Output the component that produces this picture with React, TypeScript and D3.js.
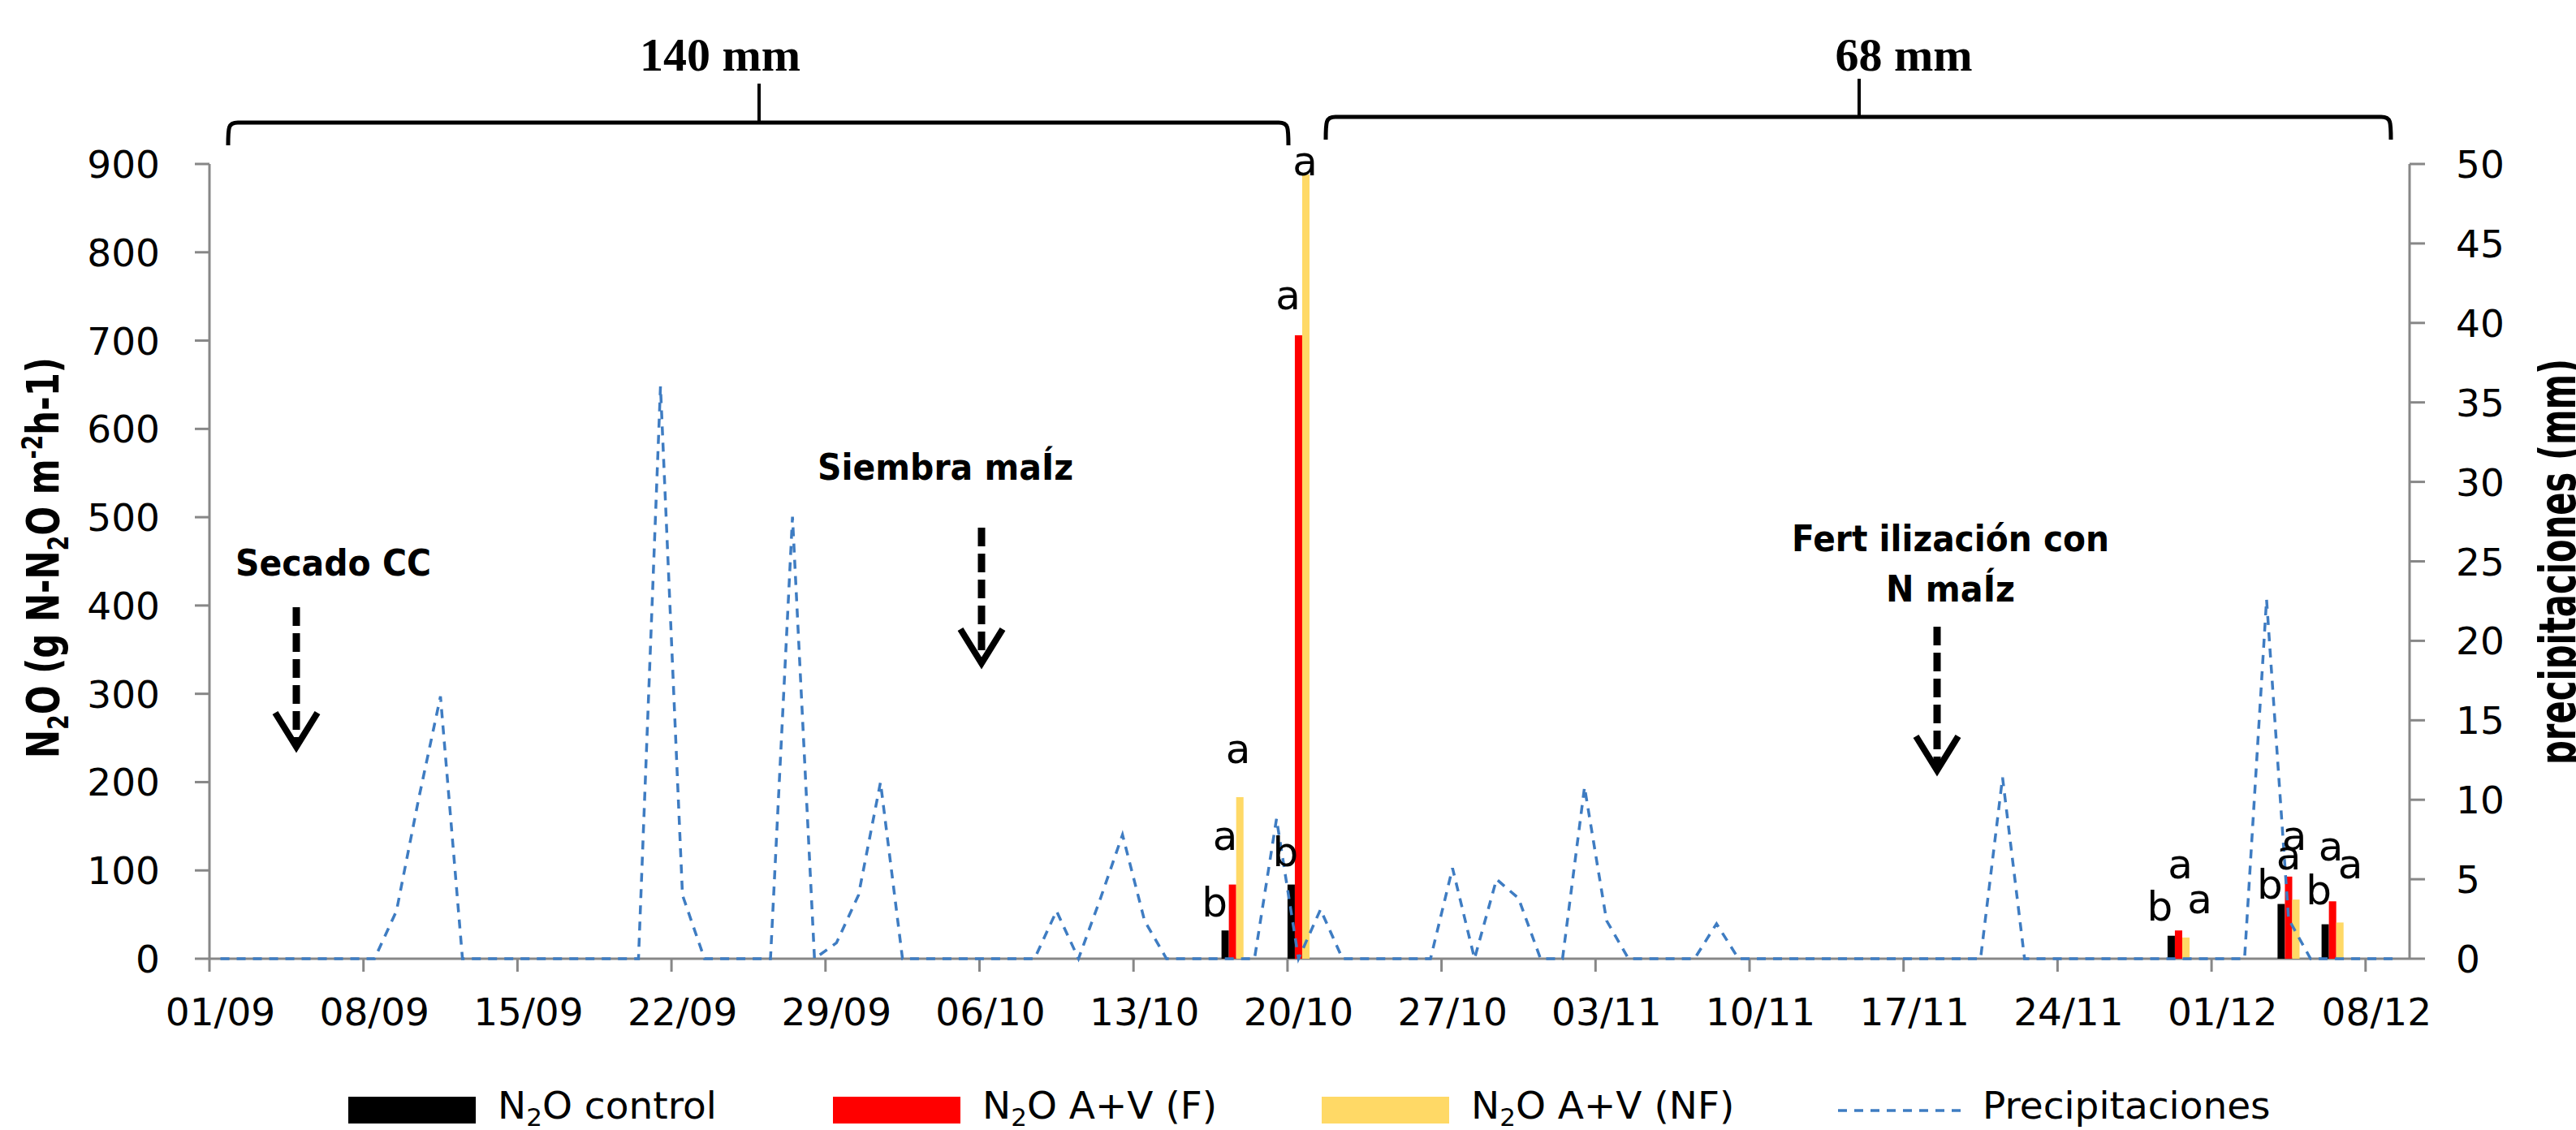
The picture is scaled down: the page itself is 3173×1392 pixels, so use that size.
import * as d3 from 'd3'

const YEAR = 2013
const DAY = 24 * 3600 * 1000
const parseDay = (s: string) => {
  const [d, m] = s.split('/').map(Number)
  return new Date(Date.UTC(YEAR, m - 1, d))
}

// daily rainfall (mm), first value is 01/09, last is 09/12
const precipStart = '01/09'
const axisEnd = '10/12'
const precipitation = [
  0, 0, 0, 0, 0, 0, 0, // 01/09 - 07/09
  0, 3, 10, 16.5, 0, 0, 0, // 08/09 - 14/09
  0, 0, 0, 0, 0, 0, 36, // 15/09 - 21/09
  4, 0, 0, 0, 0, 27.8, 0, // 22/09 - 28/09
  1, 4, 11.1, 0, 0, 0, 0, // 29/09 - 05/10
  0, 0, 0, 3, 0, 3.8, 7.8, // 06/10 - 12/10
  2.4, 0, 0, 0, 0, 0, 8.8, // 13/10 - 19/10
  0, 3.1, 0, 0, 0, 0, 0, // 20/10 - 26/10
  5.7, 0, 5, 3.8, 0, 0, 10.8, // 27/10 - 02/11
  2.4, 0, 0, 0, 0, 2.2, 0, // 03/11 - 09/11
  0, 0, 0, 0, 0, 0, 0, // 10/11 - 16/11
  0, 0, 0, 0, 11.4, 0, 0, // 17/11 - 23/11
  0, 0, 0, 0, 0, 0, 0, // 24/11 - 30/11
  0, 0, 22.6, 2.5, 0, 0, 0, // 01/12 - 07/12
  0, 0, // 08/12 - 09/12
]

// N2O flux (g N-N2O m-2 h-1) on sampling days
const sampleDates = ['17/10', '20/10', '29/11', '04/12', '06/12']
const n2oControl = [32, 84, 26, 62, 39]
const n2oF = [84, 706, 32, 93, 65]
const n2oNF = [183, 888, 24, 67, 41]
const lettersControl = ['b', 'b', 'b', 'b', 'b']
const lettersF = ['a', 'a', 'a', 'a', 'a']
const lettersNF = ['a', 'a', 'a', 'a', 'a']

const leftTicks = [0, 100, 200, 300, 400, 500, 600, 700, 800, 900]
const rightTicks = [0, 5, 10, 15, 20, 25, 30, 35, 40, 45, 50]

// hand placement of the significance letters (px from bar top), per group
const labelDx = [[-13, -9, -2], [-7, -13, -1], [-14, 2, 17], [-14, 0, -2], [-8, -2, 13]]
const labelDy = [[-17, -43, -42], [-23, -32, 1], [-19, -64, -30], [-7, -9, -61], [-25, -50, -54]]

const series = [
  { name: 'control', values: n2oControl, letters: lettersControl, color: '#000000' },
  { name: 'A+V (F)', values: n2oF, letters: lettersF, color: '#ff0000' },
  { name: 'A+V (NF)', values: n2oNF, letters: lettersNF, color: '#ffd966' },
]

const W = 3173
const H = 1392
const plot = { left: 258, right: 2968, top: 202, bottom: 1181 }
const FONT = 'DejaVu Sans'
const GREY = '#878787'
const BLUE = '#3e7cc2'

const x = d3.scaleUtc().domain([parseDay(precipStart), parseDay(axisEnd)]).range([plot.left, plot.right])
const yL = d3.scaleLinear().domain([0, 900]).range([plot.bottom, plot.top])
const yR = d3.scaleLinear().domain([0, 50]).range([plot.bottom, plot.top])

const mid = (d: Date) => x(new Date(d.getTime() + DAY / 2))

const Arrow = ({ cx, top, tip }: { cx: number; top: number; tip: number }) => (
  <g stroke="#000" fill="none">
    <line x1={cx} x2={cx} y1={top} y2={tip - 6} strokeWidth={9} strokeDasharray="23 9" />
    <polyline points={`${cx - 26},${tip - 42} ${cx},${tip} ${cx + 26},${tip - 42}`} strokeWidth={8} />
  </g>
)

const Bracket = ({ x1, x2, xs, yH, yEnd, yTop }: any) => (
  <g stroke="#000" fill="none" strokeWidth={5}>
    <path d={`M${x1},${yEnd} C${x1},${yH + 6} ${x1},${yH} ${x1 + 12},${yH} L${x2 - 12},${yH} C${x2},${yH} ${x2},${yH + 6} ${x2},${yEnd}`} />
    <path d={`M${xs},${yH} L${xs},${yTop}`} strokeWidth={4} />
  </g>
)

export default function App() {
  const start = parseDay(precipStart)
  const precipPts = precipitation.map((v, i) => ({ date: new Date(start.getTime() + i * DAY), v }))
  const line = d3
    .line<{ date: Date; v: number }>()
    .x((d) => mid(d.date))
    .y((d) => yR(d.v))

  const xTicks = d3.utcDay.range(parseDay(precipStart), parseDay(axisEnd), 7)
  const fmt = d3.utcFormat('%d/%m')

  const bars: any[] = []
  const labels: any[] = []
  sampleDates.forEach((s, gi) => {
    const d = parseDay(s)
    const x0 = x(d)
    const bw = (x(new Date(d.getTime() + DAY)) - x0) / 3
    series.forEach((se, si) => {
      const v = se.values[gi]
      const bx = x0 + si * bw
      bars.push(<rect key={`b${gi}-${si}`} x={bx} y={yL(v)} width={bw} height={yL(0) - yL(v)} fill={se.color} />)
      labels.push(
        <text key={`l${gi}-${si}`} x={bx + bw / 2 + labelDx[gi][si]} y={yL(v) + labelDy[gi][si]} fontSize={50} textAnchor="middle" fill="#000">
          {se.letters[gi]}
        </text>
      )
    })
  })

  const legend = [
    { x: 429, kind: 'rect', color: '#000000', label: 'control' },
    { x: 1026, kind: 'rect', color: '#ff0000', label: 'A+V (F)' },
    { x: 1628, kind: 'rect', color: '#ffd966', label: 'A+V (NF)' },
    { x: 2264, kind: 'line', color: BLUE, label: 'Precipitaciones' },
  ]

  return (
    <svg width={W} height={H} style={{ position: 'absolute', left: 0, top: 0, background: '#fff' }} fontFamily={FONT}>
      <rect width={W} height={H} fill="#fff" />

      {/* brackets with rainfall totals */}
      <Bracket x1={281} x2={1587} xs={935} yH={151} yEnd={179} yTop={103} />
      <Bracket x1={1633} x2={2945} xs={2290} yH={144} yEnd={172} yTop={97} />
      <text x={887} y={87} fontFamily="Liberation Serif" fontWeight="bold" fontSize={58} textAnchor="middle">140 mm</text>
      <text x={2345} y={87} fontFamily="Liberation Serif" fontWeight="bold" fontSize={58} textAnchor="middle">68 mm</text>

      {/* axes */}
      <g stroke={GREY} strokeWidth={3}>
        <line x1={plot.left} x2={plot.left} y1={plot.top} y2={plot.bottom} />
        <line x1={plot.right} x2={plot.right} y1={plot.top} y2={plot.bottom} />
        <line x1={plot.left} x2={plot.right} y1={plot.bottom} y2={plot.bottom} />
        {leftTicks.map((t) => (
          <line key={t} x1={plot.left - 18} x2={plot.left} y1={yL(t)} y2={yL(t)} />
        ))}
        {rightTicks.map((t) => (
          <line key={t} x1={plot.right} x2={plot.right + 19} y1={yR(t)} y2={yR(t)} />
        ))}
        {xTicks.map((t) => (
          <line key={+t} x1={x(t)} x2={x(t)} y1={plot.bottom} y2={plot.bottom + 16} />
        ))}
      </g>
      <g fontSize={47} fill="#000">
        {leftTicks.map((t) => (
          <text key={t} x={197} y={yL(t) + 17} textAnchor="end">{t}</text>
        ))}
        {rightTicks.map((t) => (
          <text key={t} x={3025} y={yR(t) + 17}>{t}</text>
        ))}
        {xTicks.map((t) => (
          <text key={+t} x={mid(t)} y={1263} textAnchor="middle">{fmt(t)}</text>
        ))}
      </g>

      {/* axis titles */}
      <text transform="translate(72,687) rotate(-90)" textAnchor="middle" fontWeight="bold" fontSize={56} textLength={494} lengthAdjust="spacingAndGlyphs">
        N<tspan dy={12} fontSize={36}>2</tspan>
        <tspan dy={-12}>O (g N-N</tspan>
        <tspan dy={12} fontSize={36}>2</tspan>
        <tspan dy={-12}>O m</tspan>
        <tspan dy={-20} fontSize={36}>-2</tspan>
        <tspan dy={20}>h-1)</tspan>
      </text>
      <text transform="translate(3172,692) rotate(-90)" textAnchor="middle" fontWeight="bold" fontSize={62} textLength={500} lengthAdjust="spacingAndGlyphs">
        precipitaciones (mm)
      </text>

      {/* bars and letters */}
      {bars}
      <path d={line(precipPts) || ''} fill="none" stroke={BLUE} strokeWidth={3.5} strokeDasharray="11 9" />
      <g fontFamily={FONT}>{labels}</g>

      {/* management events */}
      <g fontWeight="bold" fontSize={45} fill="#000">
        <text x={290} y={709} textLength={241} lengthAdjust="spacingAndGlyphs">Secado CC</text>
        <text x={1007} y={591} textLength={315} lengthAdjust="spacingAndGlyphs">Siembra maÍz</text>
        <text x={2207} y={679} textLength={391} lengthAdjust="spacingAndGlyphs">Fert ilización con</text>
        <text x={2323} y={741} textLength={159} lengthAdjust="spacingAndGlyphs">N maÍz</text>
      </g>
      <Arrow cx={365} top={748} tip={920} />
      <Arrow cx={1209} top={650} tip={817} />
      <Arrow cx={2386} top={772} tip={949} />

      {/* legend */}
      <g fontSize={47} fill="#000">
        {legend.map((l) => (
          <g key={l.label}>
            {l.kind === 'rect' ? (
              <rect x={l.x} y={1351} width={157} height={33} fill={l.color} />
            ) : (
              <line x1={l.x} x2={l.x + 156} y1={1368} y2={1368} stroke={l.color} strokeWidth={3.5} strokeDasharray="11 9" />
            )}
            {l.kind === 'rect' ? (
              <text x={l.x + 184} y={1378}>
                N<tspan dy={9} fontSize={31}>2</tspan>
                <tspan dy={-9}>{`O ${l.label}`}</tspan>
              </text>
            ) : (
              <text x={l.x + 178} y={1378}>{l.label}</text>
            )}
          </g>
        ))}
      </g>
    </svg>
  )
}
